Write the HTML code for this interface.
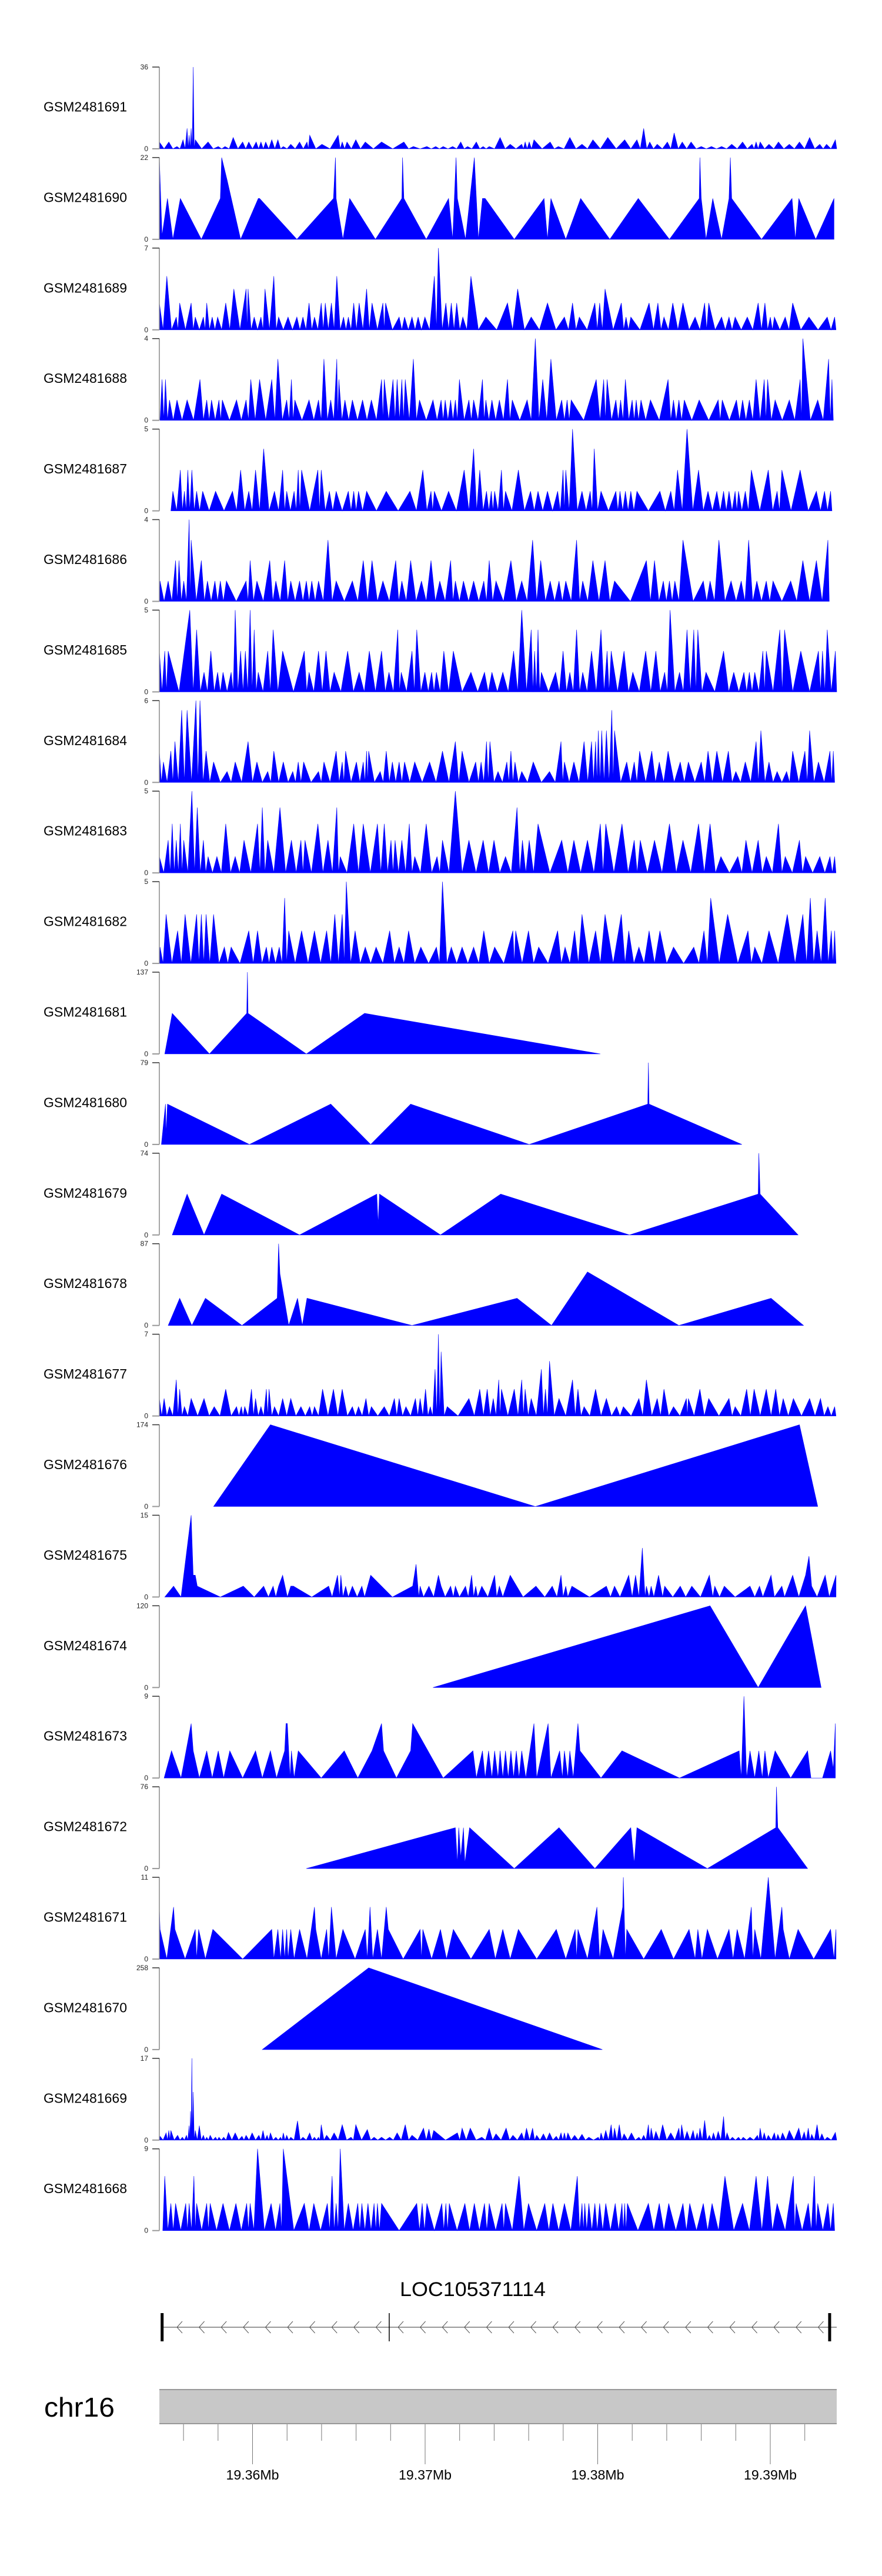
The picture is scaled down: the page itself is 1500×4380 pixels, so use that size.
<!DOCTYPE html>
<html><head><meta charset="utf-8"><title>Coverage tracks</title>
<style>
html,body{margin:0;padding:0;background:#fff;}
svg{display:block;font-family:"Liberation Sans",Arial,sans-serif;}
</style></head>
<body>
<svg id="chart" width="1500" height="4380" viewBox="0 0 1500 4380" xmlns="http://www.w3.org/2000/svg">
<rect x="0" y="0" width="1500" height="4380" fill="#fff"/>
<g id="tracks"></g>
<g id="gene"></g>
<g id="ideo"></g>
</svg>
<script>
const trackNames = ["GSM2481691","GSM2481690","GSM2481689","GSM2481688","GSM2481687","GSM2481686","GSM2481685","GSM2481684","GSM2481683","GSM2481682","GSM2481681","GSM2481680","GSM2481679","GSM2481678","GSM2481677","GSM2481676","GSM2481675","GSM2481674","GSM2481673","GSM2481672","GSM2481671","GSM2481670","GSM2481669","GSM2481668"];
const trackMax = [36,22,7,4,5,4,5,6,5,5,137,79,74,87,7,174,15,120,9,76,11,258,17,9];
const trackKind = ["peaks","pts","peaks","peaks","peaks","peaks","peaks","peaks","peaks","peaks","pts","pts","pts","pts","peaks","pts","pts","pts","pts","pts","pts","pts","peaks","peaks"];
// positions in permille of the displayed window, values in coverage units
const s1691 = [[0,3],[14,3],[26,1],[35,4],[41,9],[44,6],[47,9],[50,36],[53,4],[72,3],[87,1],[97,1],[109,5],[123,3],[132,3],[143,3],[150,3],[157,3],[166,4],[175,4],[183,1],[194,2],[207,3],[218,3],[222,6],[240,2],[264,6],[270,3],[277,3],[290,4],[304,3],[328,3],[361,3],[375,1],[395,1],[408,1],[419,1],[433,1],[445,3],[455,1],[468,3],[478,1],[487,1],[503,5],[518,2],[535,2],[540,3],[546,3],[553,4],[577,3],[589,1],[606,5],[624,2],[640,4],[662,5],[687,4],[705,4],[715,9],[724,3],[735,2],[750,3],[760,7],[772,3],[785,3],[800,1],[815,1],[830,1],[845,2],[861,3],[875,2],[881,3],[887,3],[900,2],[914,3],[930,2],[945,3],[960,5],[975,2],[985,2],[998,4]];
const s1690 = [[0,22],[4,1],[12,11],[20,0],[31,11],[62,0],[90,11],[92,22],[100,16],[120,0],[146,11],[148,11],[203,0],[257,11],[260,22],[261,11],[271,0],[281,11],[319,0],[358,11],[359,22],[361,11],[394,0],[427,11],[433,0],[438,22],[440,11],[452,0],[465,22],[471,0],[477,11],[481,11],[524,0],[568,11],[573,0],[578,11],[600,0],[622,11],[665,0],[707,11],[753,0],[797,11],[798,22],[800,11],[807,0],[817,11],[830,0],[841,11],[843,22],[845,11],[889,0],[934,11],[939,0],[944,11],[969,0],[996,11]];
const s1689 = [[0,2.3],[11,4.6],[25,1.1],[30,2.3],[47,2.3],[53,1.1],[65,1.1],[70,2.3],[78,1.1],[86,1.1],[98,2.3],[110,3.5],[128,3.5],[131,3.5],[140,1.1],[150,1.1],[156,3.5],[169,4.6],[176,1.1],[190,1.1],[203,1.1],[212,1.1],[221,2.3],[229,1.1],[239,2.3],[245,2.3],[254,2.3],[262,4.6],[272,1.1],[279,1.1],[287,2.3],[295,2.3],[306,3.5],[314,2.3],[330,2.3],[334,2.3],[354,1.1],[362,1.1],[373,1.1],[382,1.1],[392,1.1],[406,4.6],[412,7],[423,2.3],[431,2.3],[439,2.3],[448,1.1],[460,4.6],[482,1.1],[514,2.3],[529,3.5],[549,1.1],[573,2.3],[598,1.1],[610,2.3],[620,1.1],[643,2.3],[650,2.3],[658,3.5],[682,2.3],[689,1.1],[696,1.1],[723,2.3],[736,2.3],[745,1.1],[758,2.3],[773,2.3],[791,1.1],[805,2.3],[811,2.3],[830,1.1],[841,1.1],[850,1.1],[868,1.1],[884,2.3],[894,2.3],[902,1.1],[908,1.1],[924,1.1],[935,2.3],[959,1.1],[986,1.1],[997,1.1]];
const s1688 = [[4,2],[9,2],[15,1],[26,1],[41,1],[60,2],[70,1],[77,1],[88,1],[93,1],[114,1],[128,1],[135,2],[148,2],[166,2],[175,3],[188,1],[195,2],[200,1],[221,1],[235,1],[243,3],[253,1],[262,3],[265,2],[274,1],[285,1],[300,1],[313,1],[328,2],[332,2],[345,2],[351,2],[358,2],[363,2],[375,3],[384,1],[404,1],[416,1],[422,1],[430,1],[437,1],[443,2],[457,1],[464,1],[477,2],[482,1],[491,1],[502,1],[514,2],[521,1],[543,1],[555,4],[566,2],[578,3],[594,1],[602,1],[608,1],[645,2],[656,2],[661,2],[674,1],[681,1],[688,2],[698,1],[704,1],[711,1],[725,1],[751,2],[759,1],[767,1],[775,1],[797,1],[825,1],[831,1],[852,1],[861,1],[871,1],[881,2],[893,2],[898,2],[909,1],[930,1],[946,2],[950,4],[972,1],[988,3],[993,2]];
const s1687 = [[20,1.2],[31,2.5],[37,1.2],[42,2.5],[48,2.5],[55,1.2],[64,1.2],[83,1.2],[108,1.2],[120,2.5],[132,1.2],[142,2.5],[154,3.8],[170,1.2],[182,2.5],[188,1.2],[199,1.2],[205,2.5],[210,2.5],[234,2.5],[239,2.5],[251,1.2],[261,1.2],[279,1.2],[287,1.2],[294,1.2],[306,1.2],[335,1.2],[370,1.2],[389,2.5],[401,1.2],[406,1.2],[427,1.2],[450,2.5],[464,3.8],[473,2.5],[483,1.2],[490,1.2],[495,1.2],[505,2.5],[511,1.2],[530,2.5],[548,1.2],[559,1.2],[573,1.2],[588,1.2],[596,2.5],[600,2.5],[610,5],[624,1.2],[636,1.2],[642,3.8],[652,1.2],[674,1.2],[680,1.2],[688,1.2],[696,1.2],[705,1.2],[739,1.2],[755,1.2],[765,2.5],[779,5],[796,2.5],[810,1.2],[823,1.2],[833,1.2],[841,1.2],[850,1.2],[855,1.2],[865,1.2],[874,2.5],[899,2.5],[912,1.2],[919,2.5],[946,2.5],[970,1.2],[982,1.2],[991,1.2]];
const s1686 = [[1,1],[13,1],[24,2],[29,2],[36,1],[44,4],[47,3],[62,2],[71,1],[82,1],[90,1],[99,1],[128,1],[134,2],[144,1],[163,2],[172,1],[185,2],[194,1],[207,1],[217,1],[225,1],[235,1],[249,3],[261,1],[285,1],[301,2],[314,2],[330,1],[349,2],[358,1],[371,2],[387,1],[401,2],[414,1],[430,2],[437,1],[449,1],[464,1],[479,1],[487,2],[497,1],[519,2],[535,1],[551,3],[563,2],[577,1],[590,1],[600,1],[616,3],[625,1],[640,2],[658,2],[672,1],[719,2],[731,2],[744,1],[753,1],[761,1],[773,3],[803,1],[813,1],[826,3],[844,1],[859,1],[870,3],[882,1],[896,1],[906,1],[932,1],[950,2],[970,2],[987,3]];
const s1685 = [[0,2.5],[8,2.5],[13,2.5],[45,5],[55,3.8],[66,1.2],[76,2.5],[86,1.2],[94,1.2],[106,1.2],[112,5],[120,2.5],[127,2.5],[134,5],[140,3.8],[146,1.2],[160,2.5],[168,3.8],[182,2.5],[214,2.5],[221,1.2],[235,2.5],[246,2.5],[258,1.2],[278,2.5],[295,1.2],[310,2.5],[328,2.5],[339,1.2],[352,3.8],[357,1.2],[373,2.5],[380,3.8],[392,1.2],[402,1.2],[409,1.2],[420,2.5],[434,2.5],[460,1.2],[480,1.2],[491,1.2],[507,1.2],[523,2.5],[535,5],[549,3.8],[554,2.5],[559,3.8],[564,1.2],[585,1.2],[596,2.5],[606,1.2],[616,3.8],[625,1.2],[638,2.5],[652,3.8],[661,2.5],[667,2.5],[686,2.5],[699,1.2],[718,2.5],[733,2.5],[746,1.2],[754,5],[768,1.2],[779,3.8],[789,3.8],[795,3.8],[807,1.2],[833,2.5],[848,1.2],[863,1.2],[871,1.2],[879,1.2],[891,2.5],[896,2.5],[916,3.8],[923,3.8],[947,2.5],[973,2.5],[979,2.5],[986,3.8],[998,2.5]];
const s1684 = [[0,2.3],[6,1.5],[17,2.3],[23,3],[33,5.3],[41,5.3],[54,6],[60,6],[69,2.3],[80,1.5],[100,0.8],[112,1.5],[131,3],[144,1.5],[160,0.8],[169,2.3],[183,1.5],[197,0.8],[205,1.5],[213,1.5],[235,0.8],[243,1.5],[261,2.3],[270,1.5],[275,2.3],[291,1.5],[301,1.5],[306,2.3],[309,2.3],[326,0.8],[335,2.3],[344,1.5],[354,1.5],[362,1.5],[377,1.5],[399,1.5],[418,2.3],[437,3],[447,2.3],[467,1.5],[475,1.5],[483,3],[488,3],[500,0.8],[513,1.5],[519,2.3],[525,1.5],[535,0.8],[552,1.5],[576,0.8],[593,3],[598,1.5],[612,1.5],[627,3],[638,3],[644,3],[648,3.8],[653,3.8],[660,3.8],[668,5.3],[672,3.8],[690,1.5],[701,1.5],[709,2.3],[727,2.3],[738,1.5],[751,2.3],[769,1.5],[781,1.5],[800,1.5],[810,2.3],[823,2.3],[840,2.3],[851,0.8],[865,1.5],[881,3],[888,3.8],[900,1.5],[912,0.8],[926,0.8],[935,2.3],[953,2.3],[960,3.8],[973,1.5],[990,2.3],[995,2.3]];
const s1683 = [[0,1],[13,2],[19,3],[25,2],[31,3],[36,2],[48,5],[56,4],[65,2],[72,1],[85,1],[98,3],[112,1],[125,2],[145,3],[152,4],[160,2],[178,4],[195,2],[209,2],[215,2],[234,3],[249,2],[262,4],[267,1],[287,3],[301,3],[322,3],[332,3],[342,2],[348,2],[358,2],[369,3],[377,1],[394,3],[410,1],[418,2],[437,5],[457,2],[478,2],[494,2],[511,1],[528,4],[536,2],[546,2],[559,3],[594,2],[612,2],[632,2],[651,3],[659,3],[683,3],[701,2],[710,2],[731,2],[753,3],[773,2],[796,3],[813,3],[829,1],[854,1],[866,2],[884,2],[896,1],[914,3],[924,1],[945,2],[954,1],[975,1],[990,1],[997,1]];
const s1682 = [[1,1],[10,3],[27,2],[38,3],[55,3],[62,3],[69,3],[80,3],[96,1],[106,1],[132,2],[145,2],[158,1],[166,1],[177,1],[185,4],[191,2],[210,2],[229,2],[247,2],[259,3],[270,3],[276,5],[289,2],[304,1],[320,1],[340,2],[354,1],[368,2],[386,1],[409,1],[418,5],[431,1],[447,1],[464,1],[479,2],[495,1],[522,2],[526,2],[545,2],[560,1],[588,2],[599,1],[613,2],[624,3],[644,2],[658,3],[682,3],[693,2],[708,1],[723,2],[739,2],[759,1],[789,1],[804,2],[814,4],[839,3],[869,2],[879,1],[900,2],[927,3],[950,3],[961,4],[971,2],[983,4],[992,2],[997,2]];
const s1681 = [[8,0],[19,68],[74,0],[129,68],[130,137],[131,68],[217,0],[303,68],[651,0]];
const s1680 = [[3,0],[9,39],[10,10],[12,39],[133,0],[253,39],[312,0],[371,39],[546,0],[721,39],[722,79],[723,39],[860,0]];
const s1679 = [[19,0],[41,37],[66,0],[92,37],[207,0],[321,37],[323,10],[325,37],[415,0],[504,37],[694,0],[884,37],[885,74],[887,37],[943,0]];
const s1678 = [[13,0],[30,29],[48,0],[68,29],[122,0],[174,29],[176,87],[178,55],[191,0],[204,29],[211,0],[218,29],[373,0],[528,29],[579,0],[632,57],[767,0],[903,29],[951,0]];
const s1677 = [[0,1.5],[7,1.5],[15,0.8],[25,3.1],[30,2.3],[37,0.8],[47,1.5],[66,1.5],[81,0.8],[98,2.3],[114,0.8],[121,0.8],[126,0.8],[136,2.3],[142,1.5],[150,0.8],[158,2.3],[162,2.3],[170,0.8],[182,1.5],[194,1.5],[209,0.8],[222,0.8],[229,0.8],[241,2.3],[257,2.3],[270,2.3],[285,0.8],[294,0.8],[305,1.5],[313,0.8],[332,0.8],[347,1.5],[354,1.5],[364,0.8],[378,1.5],[385,1.5],[393,2.3],[400,0.8],[407,4],[412,7],[416,5.5],[425,0.8],[457,1.5],[473,2.3],[484,2.3],[493,1.5],[501,3.1],[505,2.3],[524,2.3],[535,3.1],[540,2.3],[549,1.5],[564,4],[570,2.3],[576,4.7],[590,1.5],[610,3.1],[618,2.3],[627,0.8],[644,2.3],[660,1.5],[675,0.8],[685,0.8],[708,1.5],[719,3.1],[735,1.5],[745,2.3],[759,0.8],[778,1.5],[781,1.5],[798,2.3],[811,1.5],[841,1.5],[850,0.8],[867,2.3],[878,2.3],[896,2.3],[910,2.3],[921,1.5],[936,1.5],[960,1.5],[976,1.5],[987,0.8],[997,0.8]];
const s1676 = [[80,0],[164,174],[555,0],[945,174],[972,0]];
const s1675 = [[8,0],[21,2],[32,0],[41,9],[47,15],[50,4],[53,4],[56,2],[90,0],[124,2],[140,0],[154,2],[161,0],[168,2],[172,0],[176,2],[182,4],[189,0],[194,2],[198,2],[225,0],[250,2],[255,0],[263,4],[266,0],[268,4],[271,0],[275,2],[279,0],[285,2],[292,0],[299,2],[303,0],[312,4],[344,0],[374,2],[379,6],[383,0],[385,2],[390,0],[398,2],[405,0],[412,4],[416,2],[422,0],[430,2],[434,0],[437,2],[443,0],[452,2],[456,0],[461,4],[464,0],[467,2],[470,0],[476,2],[485,0],[495,4],[498,0],[502,2],[507,0],[518,4],[537,0],[556,2],[569,0],[580,2],[587,0],[593,4],[596,0],[600,2],[603,0],[609,2],[635,0],[660,2],[666,0],[672,2],[680,0],[693,4],[698,0],[703,4],[708,0],[713,9],[717,0],[719,2],[723,0],[726,2],[730,0],[737,4],[743,0],[746,2],[758,0],[769,2],[777,0],[786,2],[799,0],[812,4],[817,0],[820,2],[827,0],[834,2],[850,0],[872,2],[879,0],[886,2],[891,0],[903,4],[908,0],[919,2],[923,0],[935,4],[944,0],[954,4],[959,7.5],[963,2],[971,0],[983,4],[989,0],[999,4]];
const s1674 = [[404,0],[813,120],[884,0],[954,120],[977,0]];
const s1673 = [[7,0],[18,3],[32,0],[47,6],[50,3],[59,0],[70,3],[78,0],[87,3],[95,0],[104,3],[123,0],[142,3],[152,0],[164,3],[173,0],[185,3],[187,6],[189,6],[193,0],[195,3],[199,0],[205,3],[239,0],[273,3],[293,0],[314,3],[328,6],[331,3],[350,0],[371,3],[374,6],[419,0],[463,3],[468,0],[477,3],[481,0],[486,3],[491,0],[495,3],[500,0],[503,3],[507,0],[511,3],[515,0],[519,3],[523,0],[527,3],[531,0],[535,3],[541,0],[553,6],[557,0],[574,6],[578,0],[591,3],[595,0],[598,3],[603,0],[606,3],[611,0],[618,6],[621,3],[652,0],[683,3],[768,0],[856,3],[859,0],[863,9],[867,0],[872,3],[879,0],[885,3],[890,0],[894,3],[899,0],[909,3],[932,0],[957,3],[962,0],[979,0],[991,3],[995,1],[998,6]];
const s1672 = [[217,0],[437,38],[440,5],[442,38],[445,10],[449,38],[451,5],[458,38],[524,0],[590,38],[643,0],[696,38],[701,5],[705,38],[809,0],[910,38],[911,76],[913,38],[957,0]];
const s1671 = [[0,7],[1,4],[11,0],[21,7],[23,4],[38,0],[53,4],[55,0],[58,4],[68,0],[79,4],[123,0],[166,4],[169,0],[175,4],[179,0],[182,4],[185,0],[188,4],[190,0],[194,4],[199,0],[207,4],[218,0],[229,7],[231,4],[239,0],[247,4],[250,0],[254,7],[257,4],[261,0],[271,4],[289,0],[304,4],[307,0],[311,7],[315,0],[322,4],[328,0],[335,7],[338,4],[360,0],[385,4],[387,0],[389,4],[402,0],[415,4],[424,0],[434,4],[460,0],[487,4],[496,0],[507,4],[518,0],[530,4],[557,0],[586,4],[600,0],[614,4],[616,0],[618,4],[632,0],[646,7],[650,0],[655,4],[670,0],[684,7],[685,11],[688,0],[690,4],[715,0],[741,4],[759,0],[782,4],[791,0],[795,4],[801,0],[809,4],[824,0],[841,4],[847,0],[853,4],[864,0],[874,7],[876,0],[879,4],[888,0],[899,11],[909,0],[919,7],[921,4],[930,0],[943,4],[966,0],[991,4],[996,0],[999,4]];
const s1670 = [[152,0],[309,258],[654,0]];
const s1669 = [[1,0.8],[10,1.5],[14,2],[17,2],[27,1],[34,0.6],[40,1],[44,3],[46,6],[48,17],[50,10],[53,2],[59,3],[65,1],[70,0.6],[75,1],[83,0.6],[88,0.6],[95,0.6],[102,1.6],[112,1.5],[122,0.8],[128,1],[137,1.5],[147,1],[153,2],[159,1],[164,1.5],[172,0.6],[179,0.6],[183,1.5],[188,1],[194,0.6],[204,4],[212,0.6],[222,1.5],[229,0.6],[235,0.6],[239,3.2],[247,1],[258,1.5],[270,3.2],[283,0.6],[290,3.2],[307,2.2],[317,0.6],[328,0.6],[340,0.6],[351,1.5],[363,3.2],[373,1],[390,2.5],[398,2.3],[405,2],[440,1.5],[447,2.5],[459,2.5],[476,0.6],[487,2.5],[497,1.3],[512,2.5],[522,1],[535,1.5],[542,2.5],[551,2.5],[557,1],[567,1.3],[576,1.5],[586,0.8],[593,1.5],[598,1.5],[603,1.5],[613,1],[624,1.2],[634,0.6],[648,0.6],[652,1.5],[659,2],[667,3.2],[672,2.5],[679,3.2],[686,1.3],[697,1.5],[708,0.6],[715,1],[722,3.2],[726,2.5],[733,1.8],[743,3.2],[755,1.5],[767,2.5],[771,3.2],[779,1.8],[788,2],[794,1.5],[798,2.5],[805,4.1],[812,1],[818,1.5],[825,1.8],[833,4.9],[838,1.5],[846,0.6],[855,0.6],[862,0.6],[872,0.6],[883,1],[887,2.5],[893,1.5],[899,1],[908,1.5],[913,1.2],[920,1.5],[930,2],[944,2.5],[952,1.7],[958,2.5],[963,1.2],[971,3.2],[978,1.3],[986,0.6],[998,1.6]];
const s1668 = [[8,6],[17,3],[24,3],[39,3],[44,3],[51,6],[55,3],[70,3],[75,3],[94,3],[113,3],[129,3],[134,3],[145,9],[165,3],[178,3],[183,9],[214,3],[228,3],[248,3],[255,6],[261,3],[267,9],[279,3],[293,3],[299,3],[308,3],[317,3],[322,3],[328,3],[380,3],[388,3],[395,3],[417,3],[423,3],[428,3],[451,3],[465,3],[480,3],[487,3],[506,3],[511,3],[531,6],[545,3],[569,3],[581,3],[598,3],[617,6],[624,3],[628,3],[634,3],[643,3],[650,3],[659,3],[673,3],[683,3],[687,3],[691,3],[722,3],[738,3],[752,3],[773,3],[783,3],[803,3],[816,3],[835,6],[861,3],[881,6],[898,6],[912,3],[936,6],[940,3],[958,3],[967,6],[972,3],[987,3],[995,3]];
const trackData = [s1691,s1690,s1689,s1688,s1687,s1686,s1685,s1684,s1683,s1682,s1681,s1680,s1679,s1678,s1677,s1676,s1675,s1674,s1673,s1672,s1671,s1670,s1669,s1668];

// genomic axis data
const axisTicks = [19356000,19358000,19360000,19362000,19364000,19366000,19368000,19370000,19372000,19374000,19376000,19378000,19380000,19382000,19384000,19386000,19388000,19390000,19392000];
const axisLabels = [[19360000,"19.36Mb"],[19370000,"19.37Mb"],[19380000,"19.38Mb"],[19390000,"19.39Mb"]];
const geneName = "LOC105371114";
const geneStart = 19354760, geneEnd = 19393440, geneJunction = 19367920;

const NS = "http://www.w3.org/2000/svg";
function mk(tag, attrs, parent){const e=document.createElementNS(NS,tag);for(const k in attrs)e.setAttribute(k,attrs[k]);parent.appendChild(e);return e;}

const PX0 = 271, PX1 = 1423;
function xPos(p){return PX0 + p*(PX1-PX0)/1000;}
function xGen(bp){return 1310 + (bp-19390000)*0.02935;}
const TOP0 = 114, STEP = 153.9, TH = 139;

const tg = document.getElementById('tracks');
trackNames.forEach((name,i)=>{
  const top = TOP0 + STEP*i, base = top + TH, mx = trackMax[i];
  const g = mk('g',{},tg);
  
  
  const lab = mk('text',{x:74,y:top+TH/2+6,'font-size':23,fill:'#000',textLength:142,lengthAdjust:'spacingAndGlyphs'},g);
  lab.textContent = name;
  
  
  const yv = v => base - v/mx*TH;
  let pts = trackData[i].map(d=>[d[0],d[1]]);
  if(trackKind[i]==='peaks'){
    const out=[];
    pts.forEach((d,k)=>{ if(k>0){out.push([(pts[k-1][0]+d[0])/2,0]);} out.push(d); });
    pts = out;
  }
  const first = Math.max(0, pts[0][0] - (trackKind[i]==='peaks'?3:0));
  const last = Math.min(1000, pts[pts.length-1][0] + (trackKind[i]==='peaks'?2:0));
  let dstr = 'M'+xPos(first).toFixed(1)+','+base;
  pts.forEach(d=>{dstr+=' L'+xPos(d[0]).toFixed(1)+','+yv(d[1]).toFixed(1);});
  dstr += ' L'+xPos(last).toFixed(1)+','+base+' Z';
  const area = mk('path',{d:dstr,fill:'#0000ff',stroke:'#0000ff','stroke-width':0.6,'stroke-linejoin':'miter'},g);
  
  
  const ax = mk('g',{},g);
  
  
  mk('line',{x1:PX0,y1:top,x2:PX0,y2:base,stroke:'#888','stroke-width':1.5},ax);
  mk('line',{x1:259,y1:top,x2:PX0,y2:top,stroke:'#333','stroke-width':1.5},ax);
  mk('line',{x1:259,y1:base,x2:PX0,y2:base,stroke:'#999','stroke-width':2},ax);
  const tmax = mk('text',{x:252,y:top+4,'font-size':12,'text-anchor':'end',fill:'#222'},ax);
  tmax.textContent = String(mx);
  
  
  const t0 = mk('text',{x:252,y:base+4,'font-size':12,'text-anchor':'end',fill:'#222'},ax);
  t0.textContent = '0';
  
  
});

// gene track
const gg = document.getElementById('gene');
const gl = mk('text',{x:804,y:3904,'font-size':34,'text-anchor':'middle',fill:'#000',textLength:248,lengthAdjust:'spacingAndGlyphs'},gg);
gl.textContent = geneName;


const gy = 3957;
const gline = mk('line',{x1:xGen(geneStart),y1:gy,x2:PX1,y2:gy,stroke:'#333','stroke-width':1},gg);


for(let x=301; x<1400; x+=37.6){
  const c = mk('polyline',{points:(x+9)+','+(gy-10)+' '+x+','+gy+' '+(x+9)+','+(gy+10),fill:'none',stroke:'#555','stroke-width':1},gg);
  
  
}
[[geneStart,5],[geneJunction,1.5],[geneEnd,5]].forEach(b=>{
  const r = mk('line',{x1:xGen(b[0]),y1:3933,x2:xGen(b[0]),y2:3981,stroke:'#000','stroke-width':b[1]},gg);
  
  
});

// chromosome axis
const ig = document.getElementById('ideo');
const chr = mk('text',{x:75,y:4109,'font-size':46,fill:'#000',textLength:120,lengthAdjust:'spacingAndGlyphs'},ig);
chr.textContent = 'chr16';


const bar = mk('rect',{x:PX0,y:4063,width:PX1-PX0,height:58,fill:'#c8c8c8'},ig);


mk('line',{x1:PX0,y1:4063,x2:PX1,y2:4063,stroke:'#808080','stroke-width':1.5},ig);
mk('line',{x1:PX0,y1:4121,x2:PX1,y2:4121,stroke:'#808080','stroke-width':1.5},ig);
axisTicks.forEach(t=>{
  const major = (t % 10000)===0;
  const tk = mk('line',{x1:xGen(t),y1:4122,x2:xGen(t),y2:major?4190:4150,stroke:'#777','stroke-width':1},ig);
  
  
});
axisLabels.forEach(l=>{
  const tl = mk('text',{x:xGen(l[0]),y:4216,'font-size':23,'text-anchor':'middle',fill:'#000',textLength:90,lengthAdjust:'spacingAndGlyphs'},ig);
  tl.textContent = l[1];
  
  
});
</script>
</body></html>
